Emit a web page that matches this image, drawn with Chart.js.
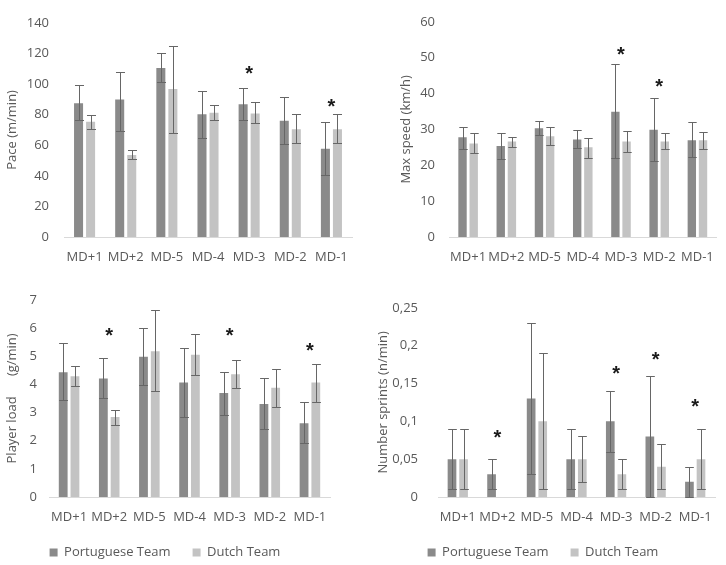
<!DOCTYPE html>
<html>
<head>
<meta charset="utf-8">
<script src="https://cdn.jsdelivr.net/npm/chart.js@4"></script>
<style>
  body { margin: 0; background: #fff; }
  #wrap { position: relative; width: 726px; height: 565px; }
  canvas { position: absolute; }
</style>
</head>
<body>
<div id="wrap">
  <canvas id="pace" width="363" height="280" style="left:0;top:0"></canvas>
  <canvas id="speed" width="363" height="280" style="left:363px;top:0"></canvas>
  <canvas id="load" width="363" height="285" style="left:0;top:280px"></canvas>
  <canvas id="sprints" width="363" height="285" style="left:363px;top:280px"></canvas>
</div>
<script>
const categories = ['MD+1', 'MD+2', 'MD-5', 'MD-4', 'MD-3', 'MD-2', 'MD-1'];
const teams = ['Portuguese Team', 'Dutch Team'];

// Pace (m/min)
const pacePor = [87.4, 89.9, 110.5, 80.2, 86.8, 76, 57.7];
const pacePorLo = [76.3, 69, 101.4, 65, 76.7, 60.6, 40.2];
const pacePorHi = [99.4, 108, 120, 95.3, 97.1, 91.5, 75.3];
const paceDut = [75.3, 53.6, 96.7, 81.2, 80.8, 70.5, 70.5];
const paceDutLo = [70.5, 50.9, 68, 76.7, 74.2, 61.2, 61.2];
const paceDutHi = [79.8, 56.7, 125, 86.2, 88, 80.2, 80.6];
const paceStars = [null, null, null, null, 109.7, null, 88.5];

// Max speed (km/h)
const speedPor = [27.8, 25.4, 30.3, 27.2, 34.9, 29.9, 27];
const speedPorLo = [24.6, 21.7, 28.3, 24.7, 22.1, 21.1, 22.4];
const speedPorHi = [30.8, 29, 32.4, 29.7, 48.1, 38.8, 32];
const speedDut = [26.1, 26.6, 28.1, 25, 26.6, 26.6, 27];
const speedDutLo = [23.3, 25.2, 25.7, 22.1, 23.7, 24.4, 24.6];
const speedDutHi = [29, 28, 30.6, 27.7, 29.5, 29, 29.3];
const speedStars = [null, null, null, null, 52.1, 43.2, null];

// Player load (g/min)
const loadPor = [4.43, 4.21, 4.98, 4.06, 3.69, 3.3, 2.62];
const loadPorLo = [3.45, 3.51, 3.99, 2.83, 2.91, 2.41, 1.9];
const loadPorHi = [5.45, 4.95, 5.99, 5.3, 4.42, 4.24, 3.36];
const loadDut = [4.29, 2.84, 5.17, 5.05, 4.36, 3.88, 4.06];
const loadDutLo = [3.95, 2.57, 3.78, 4.33, 3.86, 3.19, 3.37];
const loadDutHi = [4.66, 3.09, 6.65, 5.78, 4.88, 4.56, 4.71];
const loadStars = [null, 5.9, null, null, 5.9, null, 5.35];

// Number sprints (n/min)
const sprintPor = [0.05, 0.03, 0.13, 0.05, 0.10, 0.08, 0.02];
const sprintPorLo = [0.01, 0.01, 0.03, 0.01, 0.06, 0.0, 0.0];
const sprintPorHi = [0.09, 0.05, 0.23, 0.09, 0.14, 0.16, 0.04];
const sprintDut = [0.05, 0, 0.10, 0.05, 0.03, 0.04, 0.05];
const sprintDutLo = [0.01, null, 0.01, 0.02, 0.01, 0.01, 0.01];
const sprintDutHi = [0.09, null, 0.19, 0.08, 0.05, 0.07, 0.09];
const sprintStars = [null, 0.084, null, null, 0.169, 0.188, 0.125];

const darkGray = '#8a8a8a';
const lightGray = '#c3c3c3';
const textGray = '#595959';

// draws whiskers + the significance stars
const errorBars = {
  id: 'errorBars',
  afterDatasetsDraw(chart, args, opts) {
    const ctx = chart.ctx;
    const y = chart.scales.y;
    ctx.save();
    ctx.strokeStyle = '#666';
    ctx.lineWidth = 1;
    chart.data.datasets.forEach((ds, i) => {
      chart.getDatasetMeta(i).data.forEach((bar, j) => {
        const lo = ds.errLo[j], hi = ds.errHi[j];
        if (lo == null || hi == null) return;
        const x = Math.round(bar.x) + 0.5;
        const half = bar.width / 2;
        const y1 = Math.round(y.getPixelForValue(hi)) + 0.5;
        const y2 = Math.round(y.getPixelForValue(lo)) + 0.5;
        ctx.beginPath();
        ctx.moveTo(x, y1); ctx.lineTo(x, y2);
        ctx.moveTo(x - half, y1); ctx.lineTo(x + half, y1);
        ctx.moveTo(x - half, y2); ctx.lineTo(x + half, y2);
        ctx.stroke();
      });
    });
    ctx.fillStyle = '#1a1a1a';
    ctx.font = 'bold 20px "Liberation Sans"';
    ctx.textAlign = 'center';
    ctx.textBaseline = 'alphabetic';
    (opts.stars || []).forEach((v, j) => {
      if (v == null) return;
      const x = chart.scales.x.getPixelForValue(j);
      ctx.fillText('*', x, y.getPixelForValue(v) + 11);
    });
    ctx.restore();
  }
};

function makeChart(id, s) {
  const ctx = document.getElementById(id).getContext('2d');
  return new Chart(ctx, {
    type: 'bar',
    data: {
      labels: categories,
      datasets: [
        { label: teams[0], data: s.por, errLo: s.porLo, errHi: s.porHi, backgroundColor: darkGray },
        { label: teams[1], data: s.dut, errLo: s.dutLo, errHi: s.dutHi, backgroundColor: lightGray },
      ],
    },
    options: {
      responsive: false,
      animation: false,
      devicePixelRatio: 1,
      categoryPercentage: 0.585,
      barPercentage: 0.75,
      layout: { padding: s.padding },
      scales: {
        x: {
          grid: { display: false, drawTicks: false },
          border: { display: true, color: '#d9d9d9' },
          ticks: { color: textGray, font: { family: 'Open Sans', size: 13 }, padding: 12, maxRotation: 0 },
          afterFit: (scale) => { scale.height = s.xHeight; },
        },
        y: {
          min: 0,
          max: s.max,
          grid: { display: false, drawTicks: false },
          border: { display: false },
          ticks: {
            stepSize: s.step,
            color: textGray,
            font: { family: 'Open Sans', size: 13 },
            padding: s.tickPad,
            callback: s.fmt || ((v) => v),
          },
          title: { display: true, text: s.title, color: textGray, font: { family: 'Open Sans', size: 13 } },
          afterFit: (scale) => { scale.width = s.yWidth; },
        },
      },
      plugins: {
        legend: {
          display: s.legend,
          position: 'bottom',
          maxHeight: 41,
          labels: { boxWidth: 8, boxHeight: 8, color: textGray, font: { family: 'Open Sans', size: 13 }, padding: 22 },
        },
        tooltip: { enabled: false },
        errorBars: { stars: s.stars },
      },
    },
    plugins: [errorBars],
  });
}

document.addEventListener('DOMContentLoaded', () => {
  makeChart('pace', {
    por: pacePor, porLo: pacePorLo, porHi: pacePorHi,
    dut: paceDut, dutLo: paceDutLo, dutHi: paceDutHi, stars: paceStars,
    max: 140, step: 20, title: 'Pace (m/min)', legend: false,
    padding: { left: 0, right: 11, top: 11, bottom: 0 }, yWidth: 64, xHeight: 43, tickPad: 15,
  });
  makeChart('speed', {
    por: speedPor, porLo: speedPorLo, porHi: speedPorHi,
    dut: speedDut, dutLo: speedDutLo, dutHi: speedDutHi, stars: speedStars,
    max: 60, step: 10, title: 'Max speed (km/h)', legend: false,
    padding: { left: 31, right: 3, top: 14, bottom: 0 }, yWidth: 55, xHeight: 43, tickPad: 14,
  });
  makeChart('load', {
    por: loadPor, porLo: loadPorLo, porHi: loadPorHi,
    dut: loadDut, dutLo: loadDutLo, dutHi: loadDutHi, stars: loadStars,
    max: 7, step: 1, title: 'Player load      (g/min)', legend: true,
    padding: { left: 0, right: 33, top: 17, bottom: 0 }, yWidth: 49, xHeight: 27, tickPad: 12,
  });
  makeChart('sprints', {
    por: sprintPor, porLo: sprintPorLo, porHi: sprintPorHi,
    dut: sprintDut, dutLo: sprintDutLo, dutHi: sprintDutHi, stars: sprintStars,
    max: 0.25, step: 0.05, title: 'Number sprints (n/min)', legend: true,
    padding: { left: 8, right: 11, top: 17, bottom: 0 }, yWidth: 67, xHeight: 27, tickPad: 20,
    fmt: (v) => String(Number(v.toFixed(2))).replace('.', ','),
  });
});
</script>
</body>
</html>
